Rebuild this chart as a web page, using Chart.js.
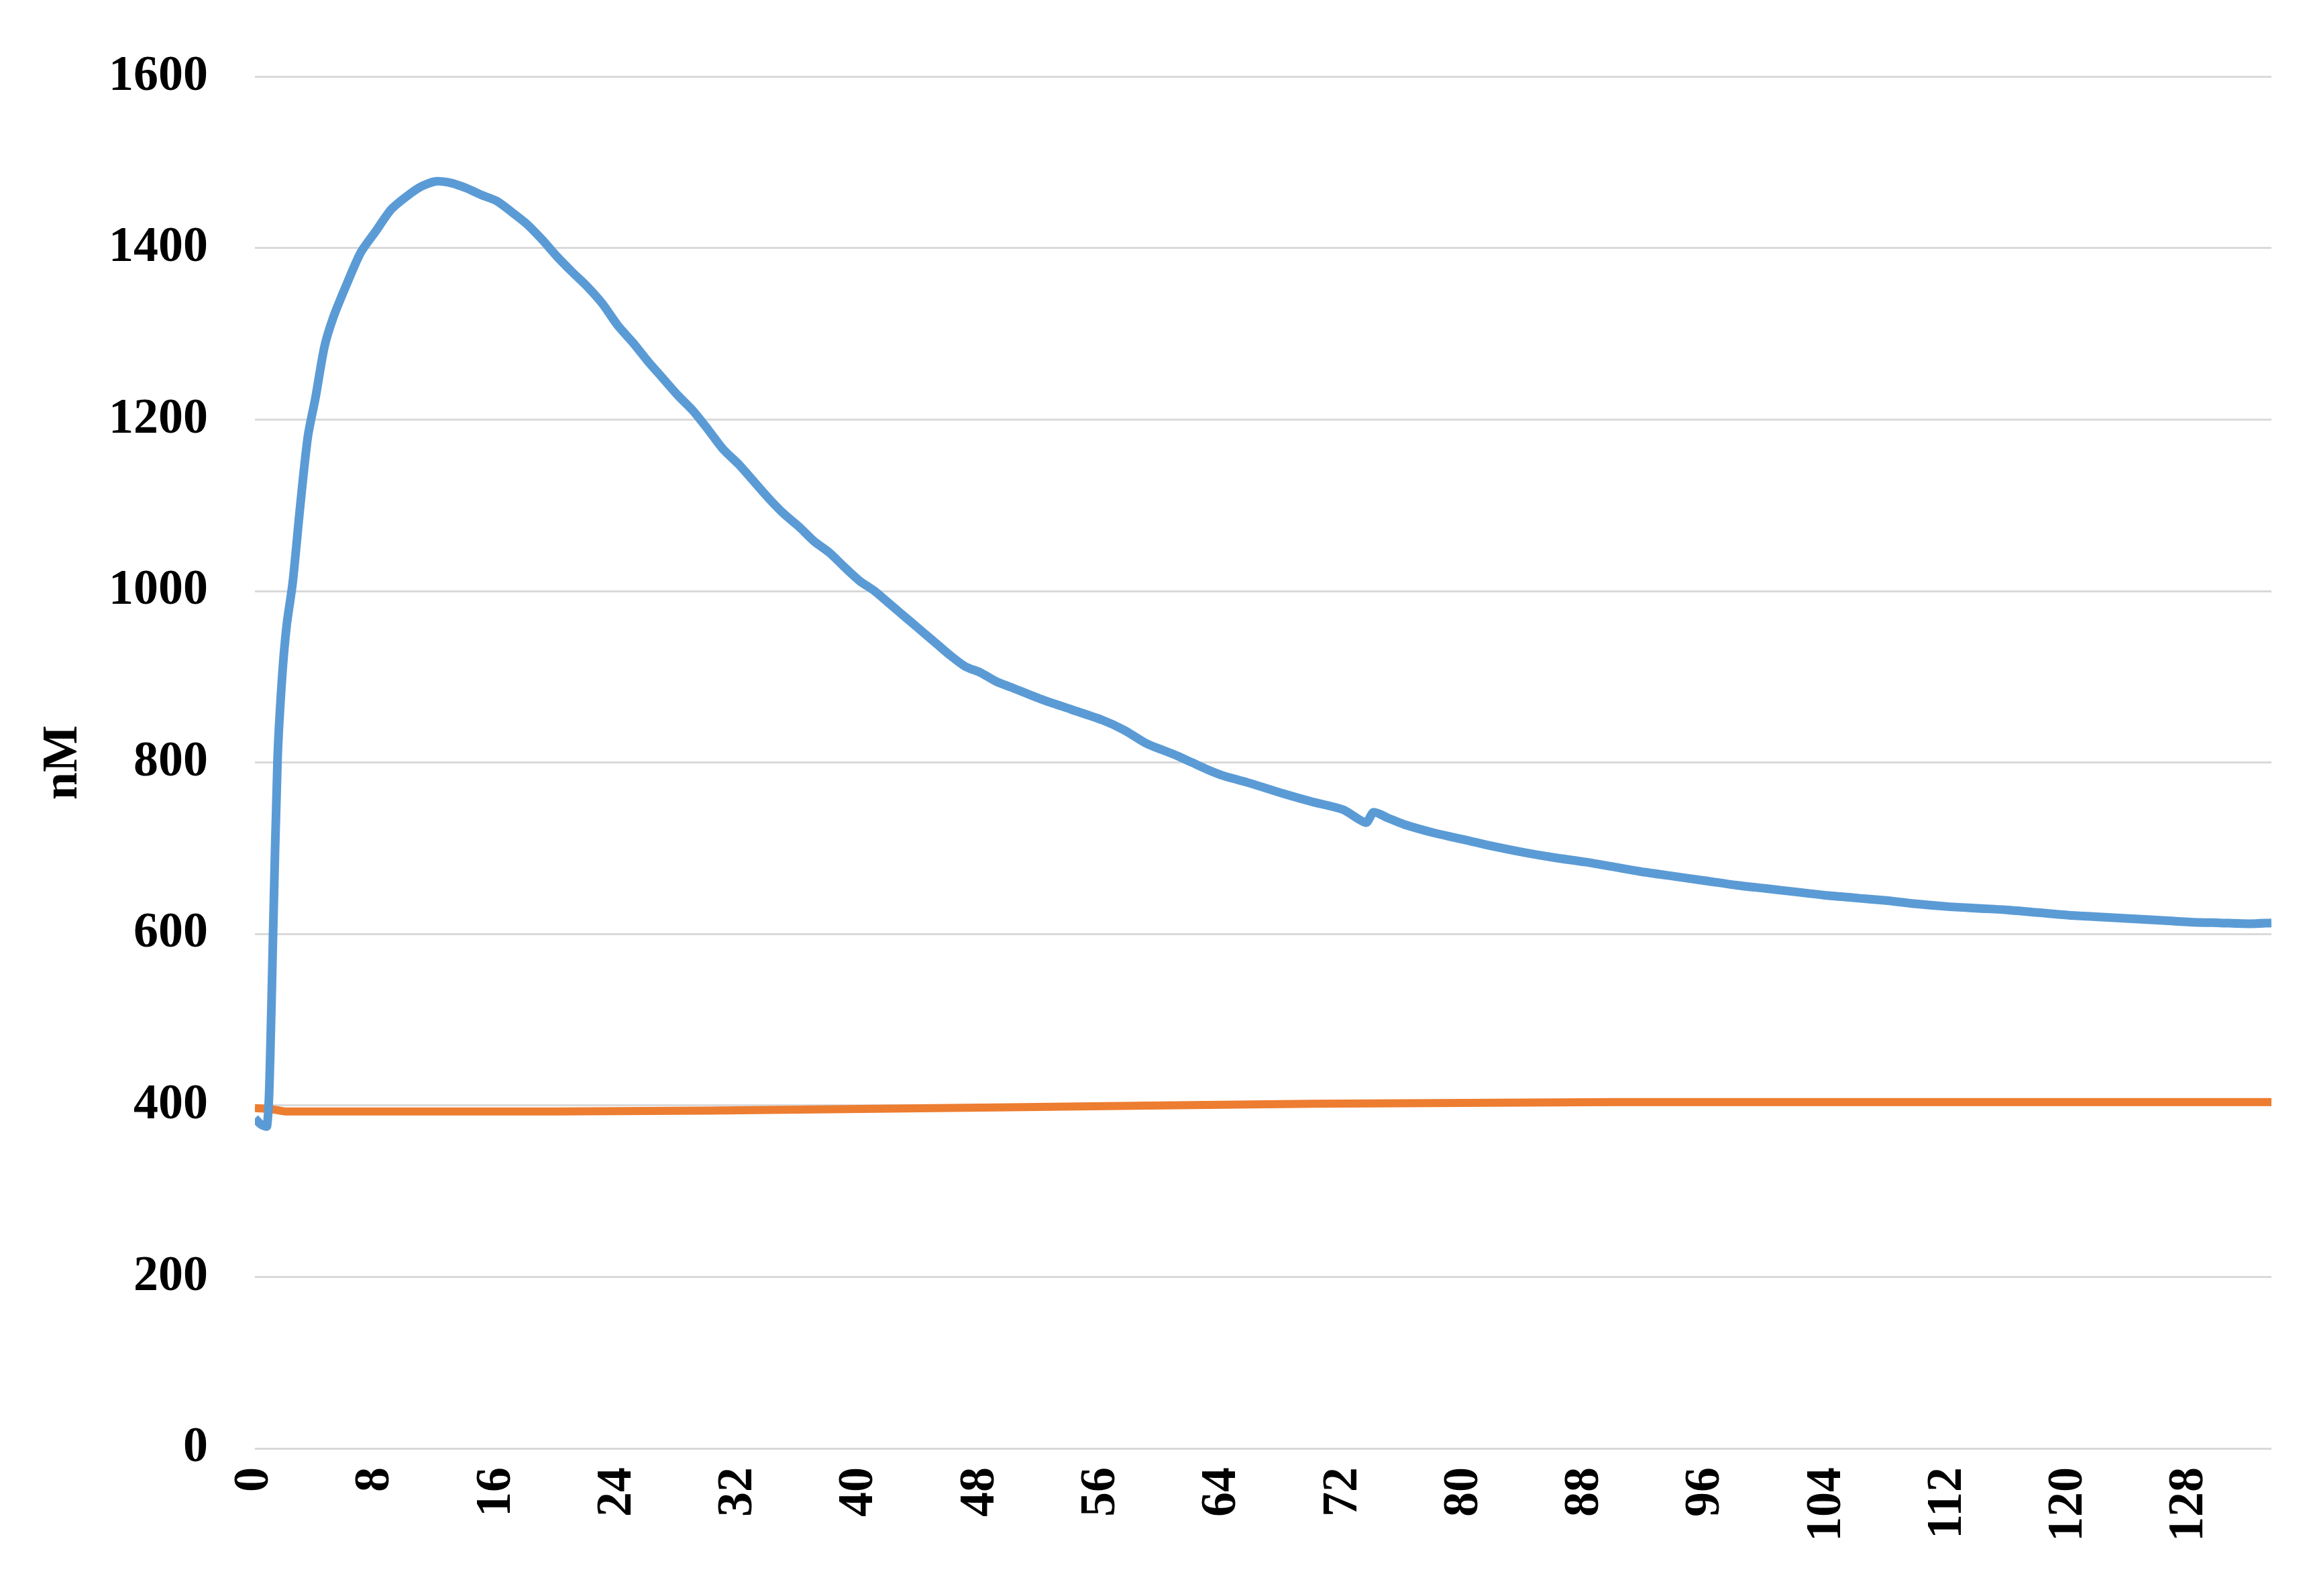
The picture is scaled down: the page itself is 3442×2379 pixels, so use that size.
<!DOCTYPE html>
<html>
<head>
<meta charset="utf-8">
<script src="https://cdn.jsdelivr.net/npm/chart.js@4/dist/chart.umd.min.js"></script>
<style>
  html, body { margin: 0; padding: 0; background: #fff; }
</style>
</head>
<body>
<canvas id="chart" width="3442" height="2379"></canvas>
<script>
// time points (x) and concentrations (nM)
var blueTimes = [0, 0.4, 0.8, 1.0, 1.2, 1.5, 1.8, 2.1, 2.5, 3.0, 3.5, 4.0, 4.6, 5.2, 6.0, 7.0, 8.0, 9.0, 10.0, 11.0, 12.0, 13.0, 14.0, 15.0, 16.0, 17.0, 18.0, 19.0, 20.0, 21.0, 22.0, 23.0, 24.0, 25.0, 26.0, 27.0, 28.0, 29.0, 30.0, 31.0, 32.0, 33.0, 34.0, 35.0, 36.0, 37.0, 38.0, 39.0, 40.0, 41.0, 42.0, 43.0, 44.0, 45.0, 46.0, 47.0, 48.0, 49.0, 50.0, 52.0, 54.0, 56.0, 57.5, 59.0, 60.0, 61.0, 62.0, 63.0, 64.0, 65.0, 66.0, 68.0, 70.0, 72.0, 73.5, 74.0, 75.0, 76.0, 78.0, 80.0, 82.0, 84.0, 86.0, 88.0, 90.0, 92.0, 94.0, 96.0, 98.0, 100.0, 102.0, 104.0, 106.0, 108.0, 110.0, 112.0, 114.0, 116.0, 118.0, 120.0, 122.0, 124.0, 126.0, 128.0, 130.0, 132.0, 133.4];
var blueValues = [385, 378, 376, 450, 600, 805, 900, 960, 1010, 1100, 1180, 1225, 1285, 1320, 1355, 1395, 1420, 1445, 1460, 1472, 1478, 1476, 1470, 1462, 1455, 1442, 1428, 1410, 1390, 1372, 1355, 1335, 1310, 1290, 1268, 1248, 1228, 1210, 1188, 1165, 1148, 1128, 1108, 1090, 1075, 1058, 1045, 1028, 1012, 1000, 985, 970, 955, 940, 925, 912, 905, 895, 888, 874, 862, 850, 838, 822, 815, 808, 800, 792, 785, 780, 775, 764, 754, 745, 730, 742, 735, 728, 718, 710, 702, 695, 689, 684, 678, 672, 667, 662, 657, 653, 649, 645, 642, 639, 635, 632, 630, 628, 625, 622, 620, 618, 616, 614, 613, 612, 613];

var orangeTimes = [0, 1, 2, 10, 20, 30, 40, 50, 60, 70, 80, 90, 100, 110, 120, 133.4];
var orangeValues = [397, 396, 393, 393, 393, 394, 396, 398, 400, 402, 403, 404, 404, 404, 404, 404];

var yTicks = [0, 200, 400, 600, 800, 1000, 1200, 1400, 1600];

function toPoints(xs, ys) {
    var pts = [];
    for (let i = 0; i < xs.length; i++) {
        pts.push({ x: xs[i], y: ys[i] });
    }
    return pts;
}

var tickFont = { family: 'Liberation Serif', weight: 'bold', size: 74 };

var chart = new Chart(document.getElementById('chart').getContext('2d'), {
    type: 'line',
    data: {
        datasets: [
            {
                label: 'blue',
                data: toPoints(blueTimes, blueValues),
                borderColor: '#5b9bd5',
                borderWidth: 13,
                pointRadius: 0,
                tension: 0.25
            },
            {
                label: 'orange',
                data: toPoints(orangeTimes, orangeValues),
                borderColor: '#ed7d31',
                borderWidth: 12,
                pointRadius: 0,
                tension: 0
            }
        ]
    },
    options: {
        responsive: false,
        devicePixelRatio: 1,
        animation: false,
        layout: { padding: { top: 78, right: 56, left: 50, bottom: 0 } },
        plugins: {
            legend: { display: false },
            tooltip: { enabled: false }
        },
        scales: {
            x: {
                type: 'linear',
                min: 0,
                max: 133.4,
                border: { display: false },
                grid: { display: false },
                afterBuildTicks: function (axis) {
                    var t = [];
                    for (let v = 0; v <= 132; v += 4) t.push({ value: v });
                    axis.ticks = t;
                },
                ticks: {
                    color: '#000',
                    font: tickFont,
                    minRotation: 90,
                    maxRotation: 90,
                    padding: 20,
                    callback: function (v) { return String(v); }
                },
                afterFit: function (axis) { axis.height = 220; }
            },
            y: {
                min: 0,
                max: 1600,
                border: { display: false },
                grid: { color: '#d9d9d9', lineWidth: 3, drawTicks: false },
                afterBuildTicks: function (axis) {
                    axis.ticks = yTicks.map(function (v) { return { value: v }; });
                },
                ticks: {
                    color: '#000',
                    font: tickFont,
                    padding: 70,
                    callback: function (v) { return String(v); }
                },
                title: {
                    display: true,
                    text: 'nM',
                    color: '#000',
                    font: tickFont,
                    padding: 0
                },
                afterFit: function (axis) { axis.width = 330; }
            }
        }
    }
});
</script>
</body>
</html>
